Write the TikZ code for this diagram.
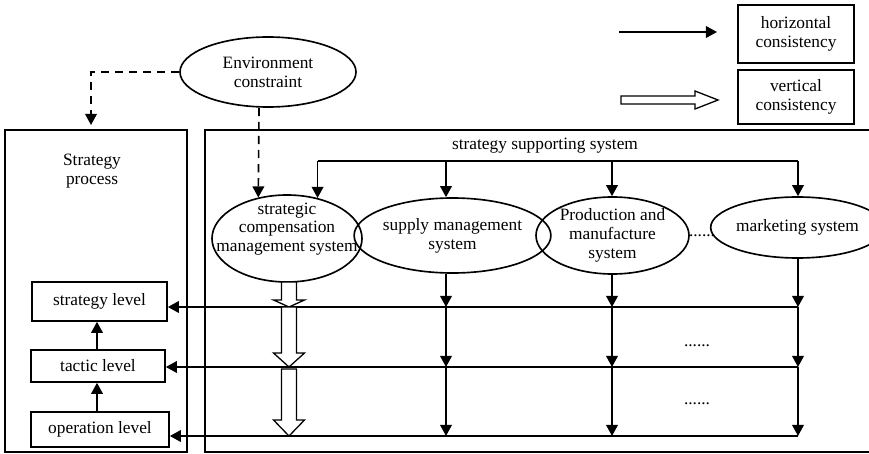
\documentclass[tikz,border=0pt]{standalone}
\usepackage{fontspec}
\setmainfont{Liberation Serif}
\usetikzlibrary{shapes.geometric,arrows.meta,calc}

\tikzset{
  txt/.style={font=\fontsize{14.8}{16}\selectfont, align=center, inner sep=0pt},
  box/.style={txt, draw, line width=1.4pt},
  oval/.style={txt, draw, ellipse, line width=1.4pt},
  line/.style={line width=1.4pt},
  arr/.style={line width=1.4pt, -{Triangle[length=9.5pt,width=10pt]}},
  dasharr/.style={arr, dash pattern=on 7pt off 5pt},
  hollow/.style={draw, fill=white, line width=1.1pt, line join=miter}
}

% hollow downward arrow: {x}{top}{head base}{tip}
\newcommand\hollowdown[4]{%
  \draw[hollow] (#1-7.5,#2) -- (#1+7.5,#2) -- (#1+7.5,#3) -- (#1+15.5,#3)
    -- (#1,#4) -- (#1-15.5,#3) -- (#1-7.5,#3) -- cycle;}

\begin{document}
\begin{tikzpicture}[x=0.03cm, y=-0.03cm]
\useasboundingbox (0,0) rectangle (869,454);

% frames
\node[box, minimum width=5.46cm, minimum height=9.66cm] (sp) at (96,291) {};
\node[box, minimum width=20.1cm, minimum height=9.66cm] (sss) at (540,291) {};
\node[txt] (sptext) at (92,171) {Strategy\\process};
\node[txt] (ssstext) at (545,146) {strategy supporting system};

% environment
\node[oval, minimum width=5.28cm, minimum height=2.1cm] (env) at (268,72) {Environment\\constraint};

% legend
\node[box, minimum width=3.48cm, minimum height=1.74cm] (lh) at (796,34) {horizontal\\consistency};
\node[box, minimum width=3.48cm, minimum height=1.62cm] (lv) at (796,97) {vertical\\consistency};
\coordinate (lha) at (619,32);
\coordinate (lhb) at (717,32);
\draw[arr] (lha) -- (lhb);
\draw[hollow] (621,96) -- (695,96) -- (695,91) -- (718,100) -- (695,109) -- (695,104) -- (621,104) -- cycle;

% subsystems
\node[oval, minimum width=4.5cm, minimum height=2.61cm] (strat) at (287,238.5) {};
\node[txt] (strattext) at (287,229) {strategic\\compensation\\management system};
\node[oval, minimum width=4.65cm, minimum height=2.25cm] (sup) at (452.5,235.5) {supply management\\system};
\node[oval, minimum width=4.59cm, minimum height=2.31cm] (prod) at (612.5,235.5) {Production and\\manufacture\\system};
\node[oval, minimum width=4.2cm, minimum height=1.83cm] (mkt) at (797.5,227.5) {marketing system};
\node[txt, anchor=base] (dots0) at (702,236) {......};

% levels
\node[box, minimum width=4.05cm, minimum height=1.17cm] (slev) at (99.5,301.5) {strategy level};
\node[box, minimum width=4.02cm, minimum height=0.96cm] (tlev) at (98,366) {tactic level};
\node[box, minimum width=4.14cm, minimum height=1.05cm] (olev) at (100,429.5) {operation level};
\draw[arr] (olev.north -| 97,0) -- (tlev.south -| 97,0);
\draw[arr] (tlev.north -| 97,0) -- (slev.south -| 97,0);

% environment influence
\coordinate (spin) at (91,125);
\coordinate (sd) at (259,0);
\draw[dasharr] (env.west) -| (spin);
\draw[dasharr] (sd |- env.south) -- (strat.125);

% distribution bus
\coordinate (b1) at (strat.53 |- 0,161);
\coordinate (b2) at (446,161);
\coordinate (b3) at (612,161);
\coordinate (b4) at (798,161);
\draw[line] (b1) -- (b4);
\draw[arr] (b1) -- (strat.53);
\draw[arr] (b2) -- (sup.north -| b2);
\draw[arr] (b3) -- (prod.north -| b3);
\draw[arr] (b4) -- (mkt.north -| b4);

% level lines
\coordinate (r1) at (798,307);
\coordinate (r2) at (798,367);
\coordinate (r3) at (798,436);
\draw[arr] (r1) -- (r1 -| slev.east);
\draw[arr] (r2) -- (r2 -| tlev.east);
\draw[arr] (r3) -- (r3 -| olev.east);

% vertical flows
\draw[arr] (sup.south -| b2) -- (r1 -| b2);
\draw[arr] (r1 -| b2) -- (r2 -| b2);
\draw[arr] (r2 -| b2) -- (r3 -| b2);
\draw[arr] (prod.south -| b3) -- (r1 -| b3);
\draw[arr] (r1 -| b3) -- (r2 -| b3);
\draw[arr] (r2 -| b3) -- (r3 -| b3);
\draw[arr] (mkt.south -| b4) -- (r1);
\draw[arr] (r1) -- (r2);
\draw[arr] (r2) -- (r3);

\node[txt, anchor=base] (dots1) at (697,346) {......};
\node[txt, anchor=base] (dots2) at (697,404) {......};

% vertical consistency arrows
\hollowdown{289}{282}{300}{307}
\hollowdown{289}{307}{353}{367}
\hollowdown{289}{369}{420}{436}
\end{tikzpicture}
\end{document}
